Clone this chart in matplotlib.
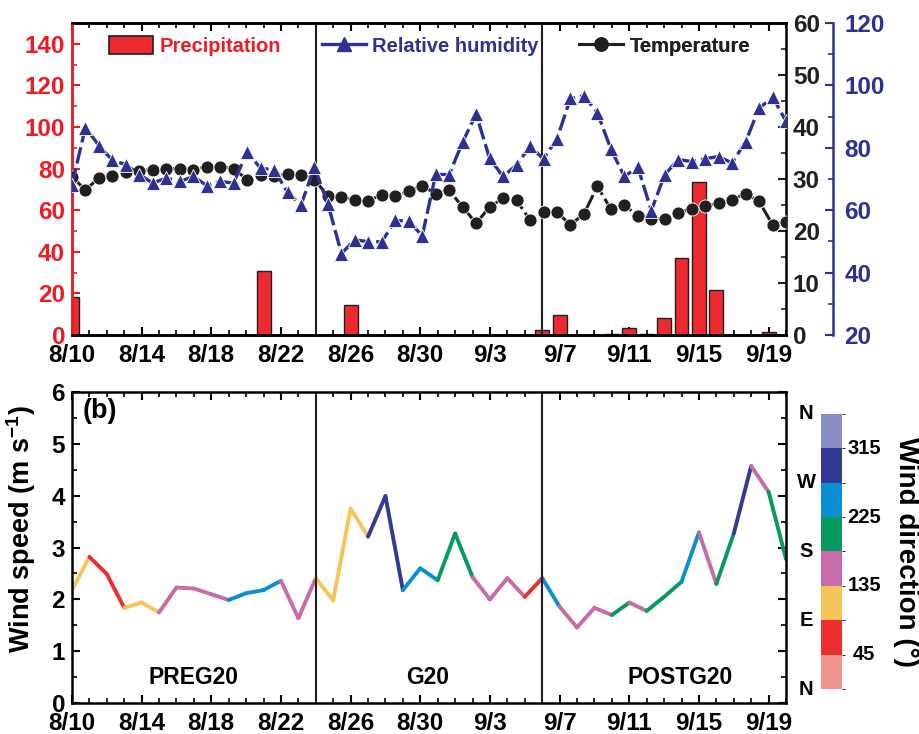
import matplotlib.pyplot as plt
import numpy as np
from matplotlib.collections import LineCollection
from matplotlib.colors import ListedColormap, BoundaryNorm
from matplotlib.lines import Line2D
from matplotlib.patches import Patch

plt.rcParams['font.family'] = ['Liberation Sans', 'DejaVu Sans']
plt.rcParams['font.weight'] = 'bold'
plt.rcParams['axes.labelweight'] = 'bold'
plt.rcParams['mathtext.fontset'] = 'custom'
plt.rcParams['mathtext.rm'] = 'Liberation Sans:bold'
plt.rcParams['mathtext.default'] = 'rm'

# eixo de datas: 8/10 .. 9/20 (dias 0..41)
n_days = 41
tick_labels = ['8/10', '8/14', '8/18', '8/22', '8/26', '8/30', '9/3', '9/7', '9/11', '9/15', '9/19']
period_breaks = [14, 27]
period_names = ['PREG20', 'G20', 'POSTG20']
period_label_x = [7, 20.4, 34.9]

# precipitacao diaria (mm), dias 0..41
precip = [18.5, 0, 0, 0, 0, 0, 0, 0, 0, 0, 0, 31.0, 0, 0, 0, 0, 14.5, 0, 0, 0, 0,
          0, 0, 0, 0, 0, 0, 2.2, 9.4, 0, 0, 0.4, 3.2, 0.3, 8.0, 36.8, 73.4, 21.5,
          0, 0, 1.3, 0]

# temperatura (C) e umidade relativa (%), 54 amostras no periodo
temperature = [30.4, 27.9, 30.2, 30.5, 31.3, 31.6, 31.8, 32.0, 32.0, 31.8, 32.4, 32.4,
               32.0, 29.9, 30.8, 30.6, 30.9, 30.8, 29.9, 26.7, 26.5, 26.0, 25.8, 27.0,
               26.7, 27.6, 28.7, 27.2, 27.8, 24.6, 21.5, 24.6, 26.3, 25.9, 22.1, 23.7,
               23.6, 21.2, 23.3, 28.6, 24.2, 25.0, 22.9, 22.4, 22.3, 23.5, 24.3, 24.9,
               25.3, 26.0, 27.2, 25.7, 21.2, 21.8]
humidity = [68.2, 86.5, 80.7, 76.0, 74.6, 71.4, 68.7, 70.3, 69.2, 70.8, 67.9, 69.2,
            68.7, 78.8, 73.4, 73.0, 65.7, 61.7, 73.8, 62.0, 46.1, 50.5, 49.9, 49.9,
            56.7, 56.5, 51.8, 71.5, 71.4, 81.9, 90.8, 76.6, 70.8, 74.5, 80.5, 76.4,
            82.9, 95.8, 96.7, 91.2, 79.6, 70.8, 73.8, 59.9, 71.4, 76.2, 75.6, 76.5,
            77.2, 75.1, 82.0, 92.6, 96.3, 88.5]

# vento diario
wind_speed = [2.18, 2.82, 2.49, 1.84, 1.94, 1.75, 2.23, 2.21, 2.10, 1.99, 2.12, 2.18,
              2.36, 1.64, 2.41, 1.98, 3.75, 3.21, 3.99, 2.18, 2.60, 2.37, 3.27, 2.43,
              2.00, 2.41, 2.05, 2.41, 1.86, 1.46, 1.84, 1.70, 1.94, 1.78, 2.05, 2.34,
              3.29, 2.30, 3.27, 4.57, 4.07, 2.78]
wind_dir = [115, 70, 65, 110, 120, 160, 150, 165, 155, 240, 250, 245, 170, 160, 105,
            120, 125, 290, 300, 250, 240, 200, 210, 160, 150, 165, 75, 245, 155, 160,
            150, 205, 165, 200, 210, 250, 155, 205, 295, 160, 210, 205]

dir_colors = ['#EF958F', '#EC2E2E', '#F5C559', '#C76BAA', '#079A5E', '#0A8FD3',
              '#343896', '#8890C6']
dir_bounds = np.arange(0, 361, 45)

RED = '#ED1C24'
BLUE = '#2E3192'
FS = 17.5


def main():
    fig = plt.figure(figsize=(9.19, 7.34), dpi=100)
    ax = fig.add_axes([0.0783, 0.5436, 0.777, 0.4251])
    ax2 = fig.add_axes([0.0783, 0.0418, 0.777, 0.4245])

    days = np.arange(len(precip))
    t_x = np.linspace(0, n_days, len(temperature))

    # ---- painel (a)
    ax.bar(days, precip, width=0.8, color='#EC2A2F', edgecolor='#231F20', linewidth=1.0, zorder=2)
    for b in period_breaks:
        ax.axvline(b, color='#231F20', lw=1.5, zorder=3)
    ax.set_xlim(0, n_days)
    ax.set_ylim(0, 150)
    ax.set_yticks(np.arange(0, 141, 20))
    ax.set_yticks(np.arange(0, 151, 10), minor=True)
    ax.tick_params(axis='y', colors=RED, labelsize=FS, direction='in', which='both', right=False, pad=5)
    ax.spines['left'].set_color(RED)
    ax.spines['right'].set_visible(False)

    ax_t = ax.twinx()
    ax_t.plot(t_x, temperature, color='#231F20', lw=2.2, ls=(0, (5, 1.5)), marker='o', ms=9.4,
              mec='white', mew=0.6, zorder=4)
    ax_t.set_ylim(0, 60)
    ax_t.set_yticks(np.arange(0, 61, 10))
    ax_t.set_yticks(np.arange(0, 61, 5), minor=True)
    ax_t.tick_params(axis='y', which='both', direction='in', labelsize=FS, colors='#231F20', pad=5)
    ax_t.spines['left'].set_color(RED)

    ax_rh = ax.twinx()
    ax_rh.plot(t_x, humidity, color=BLUE, lw=2.4, ls=(0, (5, 1.5)), marker='^', ms=10,
               mec='white', mew=0.6, zorder=5)
    ax_rh.set_ylim(20, 120)
    ax_rh.set_yticks(np.arange(20, 121, 20))
    ax_rh.set_yticks(np.arange(20, 121, 10), minor=True)
    ax_rh.spines['right'].set_position(('axes', 1.066))
    for s in ['top', 'bottom', 'left']:
        ax_rh.spines[s].set_visible(False)
    ax_rh.spines['right'].set_color(BLUE)
    ax_rh.tick_params(axis='y', which='both', direction='in', labelsize=FS, colors=BLUE, pad=8)

    # legendas separadas
    leg_font = {'size': 14.5, 'weight': 'bold'}
    entries = [
        (Patch(facecolor='#EC2A2F', edgecolor='#231F20', lw=1.2), 'Precipitation', RED, 0.052),
        (Line2D([], [], color=BLUE, lw=2.4, marker='^', ms=10), 'Relative humidity', BLUE, 0.350),
        (Line2D([], [], color='#231F20', lw=2.2, marker='o', ms=9.4), 'Temperature', '#231F20', 0.710),
    ]
    for h, lab, col, xpos in entries:
        lg = ax_rh.legend([h], [lab], loc='center left', bbox_to_anchor=(xpos, 0.926),
                          frameon=False, prop=leg_font, labelcolor=col, handlelength=2.2,
                          handleheight=1.0, handletextpad=0.3, borderpad=0, borderaxespad=0)
        ax_rh.add_artist(lg)

    # ---- painel (b)
    pts = np.column_stack([days, wind_speed])
    segs = np.stack([pts[:-1], pts[1:]], axis=1)
    cmap = ListedColormap(dir_colors)
    norm = BoundaryNorm(dir_bounds, cmap.N)
    lc = LineCollection(segs, cmap=cmap, norm=norm, linewidths=2.8, capstyle='round')
    lc.set_array(np.array(wind_dir[:-1]))
    ax2.add_collection(lc)
    for b in period_breaks:
        ax2.axvline(b, color='#231F20', lw=1.5)
    for name, xp in zip(period_names, period_label_x):
        ax2.text(xp, 0.5, name, ha='center', va='center', fontsize=16.5, fontweight='bold')
    ax2.text(0.6, 5.62, '(b)', ha='left', va='center', fontsize=19.5, fontweight='bold')
    ax2.set_xlim(0, n_days)
    ax2.set_ylim(0, 6)
    ax2.set_yticks(np.arange(0, 7, 1))
    ax2.set_yticks(np.arange(0, 6.01, 0.5), minor=True)
    ax2.set_ylabel('Wind speed (m s$^{-1}$)', fontsize=19.5)
    ax2.yaxis.set_label_coords(-0.047, 0.56)
    ax2.tick_params(axis='y', which='both', direction='in', right=True, labelsize=FS, pad=5)

    for a in (ax, ax2):
        a.set_xticks(np.arange(0, n_days, 4))
        a.set_xticklabels(tick_labels)
        a.set_xticks(np.arange(0, n_days + 1, 1), minor=True)
        a.tick_params(axis='x', which='both', direction='in', top=True, labelsize=FS, pad=6.5)
        a.tick_params(which='major', length=6, width=1.5)
        a.tick_params(which='minor', length=3.5, width=1.2)
        for s in a.spines.values():
            s.set_linewidth(1.8)
    for a in (ax_t, ax_rh):
        a.tick_params(which='major', length=6, width=1.5)
        a.tick_params(which='minor', length=3.5, width=1.2)
        for s in a.spines.values():
            s.set_linewidth(1.8)

    # barra de cores da direcao do vento
    cax = fig.add_axes([0.8934, 0.0613, 0.0229, 0.3747])
    cb = fig.colorbar(lc, cax=cax, boundaries=dir_bounds)
    cb.outline.set_visible(False)
    cb.set_ticks([])
    for v, lab in zip([0, 90, 180, 270, 360], ['N', 'E', 'S', 'W', 'N']):
        cax.text(-0.71, v, lab, transform=cax.get_yaxis_transform(), ha='center', va='center',
                 fontsize=14.5, fontweight='bold')
    for v in [45, 135, 225, 315]:
        cax.text(2.05, v, str(v), transform=cax.get_yaxis_transform(), ha='center', va='center',
                 fontsize=14.5, fontweight='bold')
    fig.text(906 / 919, 1 - 552 / 734, 'Wind direction (°)', rotation=270, ha='center',
             va='center', fontsize=20, fontweight='bold')

    fig.savefig('out.png', dpi=100)


if __name__ == '__main__':
    main()
